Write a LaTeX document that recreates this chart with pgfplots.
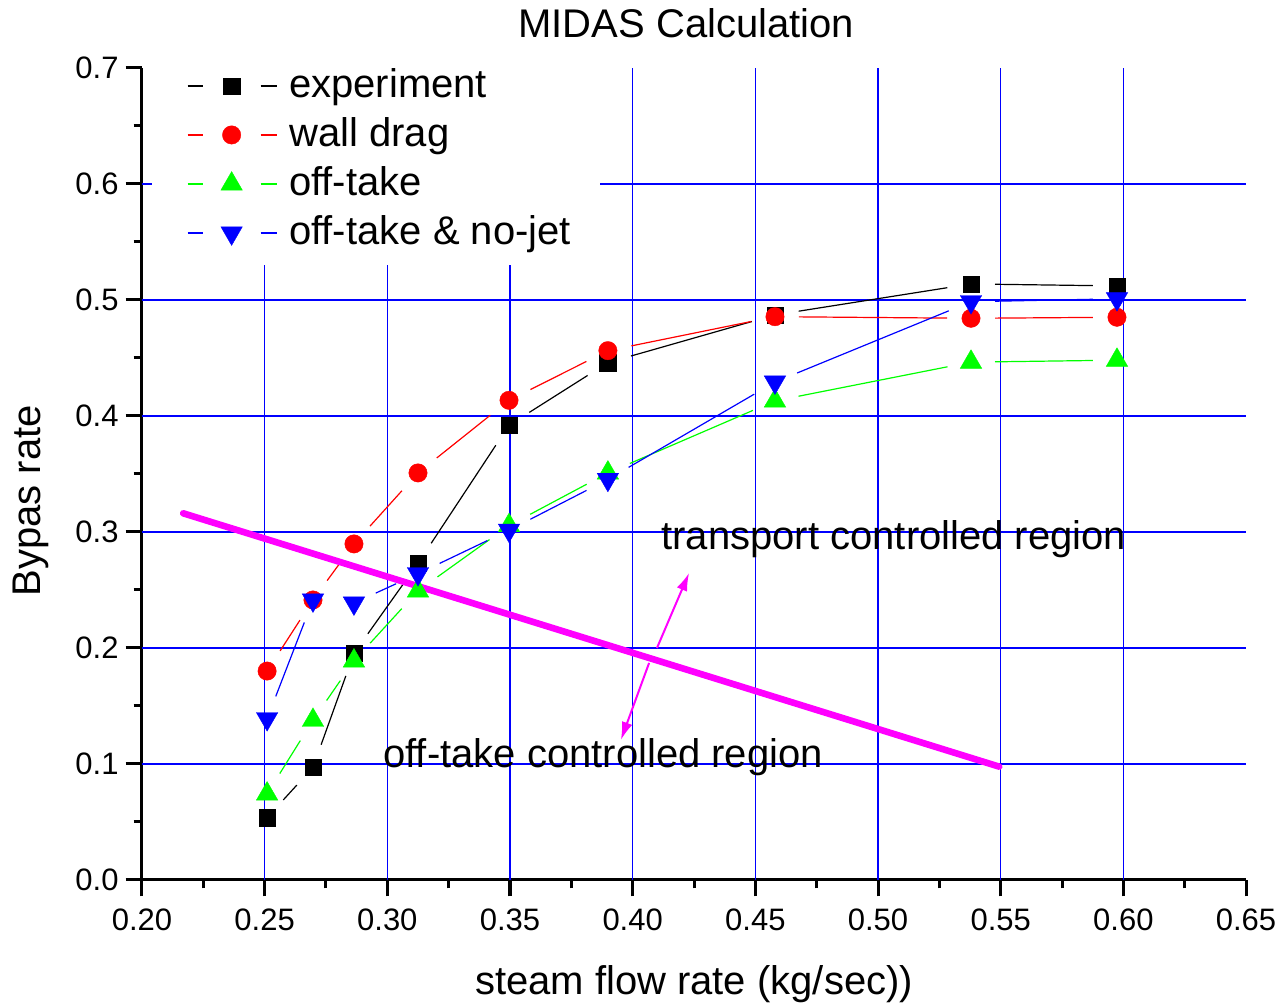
\documentclass[border=0pt]{standalone}
\usepackage{pgfplots}
\pgfplotsset{compat=1.18}
\usepackage{pgfplotstable}
\usepackage{fontspec}
\setmainfont{Liberation Sans}
\usetikzlibrary{arrows.meta}
\definecolor{mag}{RGB}{255,0,255}
\definecolor{gr}{RGB}{0,255,0}
\definecolor{bl}{RGB}{0,0,255}
\definecolor{rd}{RGB}{255,0,0}

\pgfplotstableread{
x y
0.2510 0.0537
0.2697 0.0971
0.2864 0.1954
0.3125 0.2730
0.3496 0.3920
0.3899 0.4460
0.4580 0.4871
0.5379 0.5138
0.5974 0.5121
}\expdata
\pgfplotstableread{
x y
0.2510 0.1801
0.2697 0.2414
0.2864 0.2897
0.3125 0.3509
0.3496 0.4135
0.3899 0.4563
0.4580 0.4856
0.5379 0.4842
0.5974 0.4851
}\walldata
\pgfplotstableread{
x y
0.2510 0.0742
0.2697 0.1377
0.2864 0.1889
0.3125 0.2492
0.3496 0.3055
0.3899 0.3509
0.4580 0.4130
0.5379 0.4464
0.5974 0.4481
}\offdata
\pgfplotstableread{
x y
0.2510 0.1390
0.2697 0.2413
0.2864 0.2387
0.3125 0.2640
0.3496 0.3015
0.3899 0.3453
0.4580 0.4292
0.5379 0.4985
0.5974 0.5010
}\nojetdata

\newcommand{\seg}[5]{\addplot[color=#1, line width=0.6pt, shorten >=12pt, shorten <=12pt, mark=none, forget plot] coordinates {(#2,#3) (#4,#5)};}
\newcommand{\legimg}[4]{%
  \draw[#1, line width=0.6pt] (-22pt,0pt) -- (-14.5pt,0pt);
  \draw[#1, line width=0.6pt] (14.5pt,0pt) -- (22.5pt,0pt);
  \draw[#1, fill=#1, line width=0.2pt, mark size=#4] plot[only marks, mark=#2, mark options={#3}] coordinates {(0pt,0pt)};}

\begin{document}
\begin{tikzpicture}
\begin{axis}[
  scale only axis,
  width=552pt, height=406pt,
  xmin=0.20, xmax=0.65, ymin=0, ymax=0.7,
  axis lines=left,
  axis line style={-, line width=1.5pt, black},
  xtick={0.20,0.25,...,0.651}, ytick={0,0.1,...,0.71},
  minor x tick num=1, minor y tick num=1,
  tick align=outside,
  major tick length=8.2pt, minor tick length=4.2pt,
  tick style={line width=1.5pt, black},
  /pgf/number format/assume math mode=true,
  ticklabel style={font=\fontsize{15.5}{18}\selectfont},
  xticklabel style={yshift=-2.5pt, /pgf/number format/.cd, fixed, fixed zerofill, precision=2},
  yticklabel style={/pgf/number format/.cd, fixed, fixed zerofill, precision=1},
  title={MIDAS Calculation},
  every axis title/.style={at={(axis description cs:0.493,1.0369)}, anchor=base, font=\fontsize{20}{24}\selectfont},
  xlabel={steam flow rate (kg/sec))},
  every axis x label/.style={at={(axis description cs:0.5,-0.1416)}, anchor=base, font=\fontsize{20}{24}\selectfont},
  ylabel={Bypas rate},
  every axis y label/.style={at={(axis description cs:-0.0915,0.467)}, anchor=base, rotate=90, font=\fontsize{20}{24}\selectfont},
  legend style={at={(axis description cs:0.0408,1.0080)}, anchor=north west, draw=none, fill=none,
    inner sep=0pt, outer sep=0pt, column sep=3pt, row sep=0pt,
    font=\fontsize{20}{24}\selectfont,
    nodes={inner sep=3pt, text height=15pt, text depth=3.5pt}},
  legend cell align=left,
  clip=false,
]
% grid
\pgfplotsinvokeforeach{0.25,0.30,0.35}{\draw[bl, line width=0.75pt] (axis cs:#1,0) -- (axis cs:#1,0.53);}
\pgfplotsinvokeforeach{0.40,0.45,0.50,0.55,0.60}{\draw[bl, line width=0.75pt] (axis cs:#1,0) -- (axis cs:#1,0.7);}
\pgfplotsinvokeforeach{0.1,0.2,0.3,0.4,0.5}{\draw[bl, line width=0.75pt] (axis cs:0.2,#1) -- (axis cs:0.65,#1);}
\draw[bl, line width=0.75pt] (axis cs:0.2,0.6) -- (axis cs:0.2041,0.6);
\draw[bl, line width=0.75pt] (axis cs:0.3867,0.6) -- (axis cs:0.65,0.6);

% experiment lines
\seg{black}{0.2510}{0.0537}{0.2697}{0.0971}
\seg{black}{0.2697}{0.0971}{0.2864}{0.1954}
\seg{black}{0.2864}{0.1954}{0.3125}{0.2730}
\seg{black}{0.3125}{0.2730}{0.3496}{0.3920}
\seg{black}{0.3496}{0.3920}{0.3899}{0.4460}
\seg{black}{0.3899}{0.4460}{0.4580}{0.4871}
\seg{black}{0.4580}{0.4871}{0.5379}{0.5138}
\seg{black}{0.5379}{0.5138}{0.5974}{0.5121}
% wall drag lines
\seg{rd}{0.2510}{0.1801}{0.2697}{0.2414}
\seg{rd}{0.2697}{0.2414}{0.2864}{0.2897}
\seg{rd}{0.2864}{0.2897}{0.3125}{0.3509}
\seg{rd}{0.3125}{0.3509}{0.3496}{0.4135}
\seg{rd}{0.3496}{0.4135}{0.3899}{0.4563}
\seg{rd}{0.3899}{0.4563}{0.4580}{0.4856}
\seg{rd}{0.4580}{0.4856}{0.5379}{0.4842}
\seg{rd}{0.5379}{0.4842}{0.5974}{0.4851}
% off-take lines
\seg{gr}{0.2510}{0.0742}{0.2697}{0.1377}
\seg{gr}{0.2697}{0.1377}{0.2864}{0.1889}
\seg{gr}{0.2864}{0.1889}{0.3125}{0.2492}
\seg{gr}{0.3125}{0.2492}{0.3496}{0.3055}
\seg{gr}{0.3496}{0.3055}{0.3899}{0.3509}
\seg{gr}{0.3899}{0.3509}{0.4580}{0.4130}
\seg{gr}{0.4580}{0.4130}{0.5379}{0.4464}
\seg{gr}{0.5379}{0.4464}{0.5974}{0.4481}
% no-jet lines
\seg{bl}{0.2510}{0.1390}{0.2697}{0.2413}
\seg{bl}{0.2864}{0.2387}{0.3125}{0.2640}
\seg{bl}{0.3125}{0.2640}{0.3496}{0.3015}
\seg{bl}{0.3496}{0.3015}{0.3899}{0.3453}
\seg{bl}{0.3899}{0.3453}{0.4580}{0.4292}
\seg{bl}{0.4580}{0.4292}{0.5379}{0.4985}
\seg{bl}{0.5379}{0.4985}{0.5974}{0.5010}

% markers
\addplot[only marks, mark=square*, mark size=4.1pt, mark options={draw=black, fill=black, line width=0.2pt},
  legend image code/.code={\legimg{black}{square*}{}{4.1pt}}] table {\expdata};
\addlegendentry{experiment}
\addplot[only marks, mark=*, mark size=4.6pt, mark options={draw=rd, fill=rd, line width=0.2pt},
  legend image code/.code={\legimg{rd}{*}{}{4.6pt}}] table {\walldata};
\addlegendentry{wall drag}
\addplot[only marks, mark=triangle*, mark size=6.2pt, mark options={draw=gr, fill=gr, line width=0.2pt},
  legend image code/.code={\legimg{gr}{triangle*}{}{6.2pt}}] table {\offdata};
\addlegendentry{off-take}
\addplot[only marks, mark=triangle*, mark size=6.2pt, mark options={draw=bl, fill=bl, line width=0.2pt, rotate=180},
  legend image code/.code={\legimg{bl}{triangle*}{rotate=180}{6.2pt}}] table {\nojetdata};
\addlegendentry{off-take \& no-jet}

% annotations
\draw[mag, line width=3.3pt, line cap=round] (axis cs:0.2168,0.3161) -- (axis cs:0.5494,0.0977);
\draw[mag, line width=1pt, -{Latex[length=9pt,width=5.5pt]}] (axis cs:0.4067,0.1871) -- (axis cs:0.3952,0.1207);
\draw[mag, line width=1pt, -{Latex[length=9pt,width=5.5pt]}] (axis cs:0.4099,0.2000) -- (axis cs:0.4230,0.2647);
\node[anchor=base west, inner sep=0pt, font=\fontsize{20}{24}\selectfont] at (axis cs:0.4116,0.2853) {transport controlled region};
\node[anchor=base west, inner sep=0pt, font=\fontsize{20}{24}\selectfont] at (axis cs:0.2982,0.0974) {off-take controlled region};

\coordinate (bbsw) at (rel axis cs:-0.1286,-0.1552);
\coordinate (bbne) at (rel axis cs:1.0335,1.0837);
\end{axis}
\pgfresetboundingbox
\path[use as bounding box] (bbsw) rectangle (bbne);
\end{tikzpicture}
\end{document}
